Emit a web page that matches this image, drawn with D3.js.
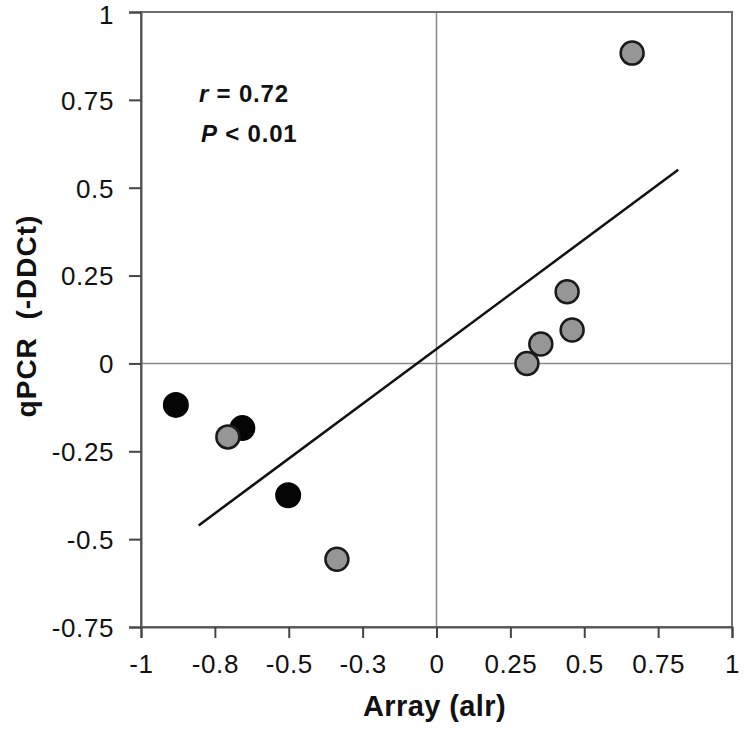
<!DOCTYPE html>
<html>
<head>
<meta charset="utf-8">
<script src="https://cdn.jsdelivr.net/npm/d3@7"></script>
<style>
  body { margin: 0; background: #fff; }
  text { font-family: "Liberation Sans", Arial, sans-serif; }
</style>
</head>
<body>
<div id="chart"></div>
<script>
// data
var grayX = [0.662, 0.442, 0.459, 0.353, 0.306, -0.706, -0.337];
var grayY = [0.883, 0.204, 0.095, 0.055, 0.0, -0.209, -0.557];
var blackX = [-0.882, -0.657, -0.502];
var blackY = [-0.118, -0.184, -0.375];
// regression line ends
var fitX = [-0.805, 0.818];
var fitY = [-0.461, 0.551];

var xTicks = [-1, -0.75, -0.5, -0.25, 0, 0.25, 0.5, 0.75, 1];
var xTickLabels = ["-1", "-0.8", "-0.5", "-0.3", "0", "0.25", "0.5", "0.75", "1"];
var yTicks = [1, 0.75, 0.5, 0.25, 0, -0.25, -0.5, -0.75];
var yTickLabels = ["1", "0.75", "0.5", "0.25", "0", "-0.25", "-0.5", "-0.75"];

var width = 750, height = 740;
var margin = { top: 12, right: 18, bottom: 113, left: 141 };
var chartWidth = width - margin.left - margin.right;
var chartHeight = height - margin.top - margin.bottom;

var svg = d3.select("#chart").append("svg")
  .attr("width", width)
  .attr("height", height);

var chartGroup = svg.append("g")
  .attr("transform", `translate(${margin.left}, ${margin.top})`);

var xScale = d3.scaleLinear().domain([-1, 1]).range([0, chartWidth]);
var yScale = d3.scaleLinear().domain([-0.75, 1]).range([chartHeight, 0]);

// zero lines
chartGroup.append("line")
  .attr("x1", xScale(0)).attr("x2", xScale(0))
  .attr("y1", 0).attr("y2", chartHeight)
  .attr("stroke", "#8a8a8a").attr("stroke-width", 1.5);
chartGroup.append("line")
  .attr("x1", 0).attr("x2", chartWidth)
  .attr("y1", yScale(0)).attr("y2", yScale(0))
  .attr("stroke", "#8a8a8a").attr("stroke-width", 1.5);

// frame
chartGroup.append("rect")
  .attr("width", chartWidth).attr("height", chartHeight)
  .attr("fill", "none").attr("stroke", "#6e6e6e").attr("stroke-width", 2);

// axes
var xAxis = d3.axisBottom(xScale)
  .tickValues(xTicks)
  .tickSize(11)
  .tickPadding(17)
  .tickFormat((d, i) => xTickLabels[i]);
var yAxis = d3.axisLeft(yScale)
  .tickValues(yTicks)
  .tickSize(12)
  .tickPadding(15)
  .tickFormat((d, i) => yTickLabels[i]);

var gx = chartGroup.append("g")
  .attr("transform", `translate(0, ${chartHeight})`)
  .call(xAxis);
var gy = chartGroup.append("g").call(yAxis);

[gx, gy].forEach(g => {
  g.select(".domain").attr("stroke", "#555").attr("stroke-width", 2);
  g.selectAll(".tick line").attr("stroke", "#444").attr("stroke-width", 2);
  g.selectAll(".tick text")
    .attr("font-size", "26px")
    .attr("letter-spacing", "0.6px")
    .attr("fill", "#111")
    .style("font-family", "'Liberation Sans', Arial, sans-serif");
});
gy.selectAll(".tick text").attr("dy", "0.36em");
// keep the top label inside the page
gy.selectAll(".tick text").filter(d => d === 1).attr("dy", "0.45em");

// regression line
chartGroup.append("line")
  .attr("x1", xScale(fitX[0])).attr("y1", yScale(fitY[0]))
  .attr("x2", xScale(fitX[1])).attr("y2", yScale(fitY[1]))
  .attr("stroke", "#111").attr("stroke-width", 2.5);

// points
var blackData = blackX.map((x, i) => ({ x: x, y: blackY[i] }));
var grayData = grayX.map((x, i) => ({ x: x, y: grayY[i] }));

chartGroup.selectAll("circle.black")
  .data(blackData)
  .enter()
  .append("circle")
  .attr("class", "black")
  .attr("cx", d => xScale(d.x))
  .attr("cy", d => yScale(d.y))
  .attr("r", 12)
  .attr("fill", "#050505")
  .attr("stroke", "#050505")
  .attr("stroke-width", 2);

// drawn in reverse so the lower points sit on top, as in the figure
chartGroup.selectAll("circle.gray")
  .data(grayData.slice().reverse())
  .enter()
  .append("circle")
  .attr("class", "gray")
  .attr("cx", d => xScale(d.x))
  .attr("cy", d => yScale(d.y))
  .attr("r", 11.5)
  .attr("fill", "#969696")
  .attr("stroke", "#1a1a1a")
  .attr("stroke-width", 2.5);

// statistics
var stat1 = svg.append("text")
  .attr("x", 199).attr("y", 102)
  .attr("font-size", "24px").attr("font-weight", "bold")
  .attr("letter-spacing", "0.8px").attr("fill", "#111");
stat1.append("tspan").attr("font-style", "italic").text("r");
stat1.append("tspan").text(" = 0.72");

var stat2 = svg.append("text")
  .attr("x", 201).attr("y", 142)
  .attr("font-size", "24px").attr("font-weight", "bold")
  .attr("letter-spacing", "0.8px").attr("fill", "#111");
stat2.append("tspan").attr("font-style", "italic").text("P");
stat2.append("tspan").text(" < 0.01");

// axis titles
svg.append("text")
  .attr("x", margin.left + xScale(0) - 2)
  .attr("y", 716)
  .attr("text-anchor", "middle")
  .attr("font-size", "29px")
  .attr("font-weight", "bold")
  .attr("letter-spacing", "0.4px")
  .attr("fill", "#111")
  .text("Array (alr)");

svg.append("text")
  .attr("transform", "rotate(-90)")
  .attr("x", -316)
  .attr("y", 36)
  .attr("text-anchor", "middle")
  .attr("font-size", "28px")
  .attr("font-weight", "bold")
  .attr("letter-spacing", "1px")
  .attr("fill", "#111")
  .attr("xml:space", "preserve")
  .style("white-space", "pre")
  .text("qPCR  (-DDCt)");
</script>
</body>
</html>
